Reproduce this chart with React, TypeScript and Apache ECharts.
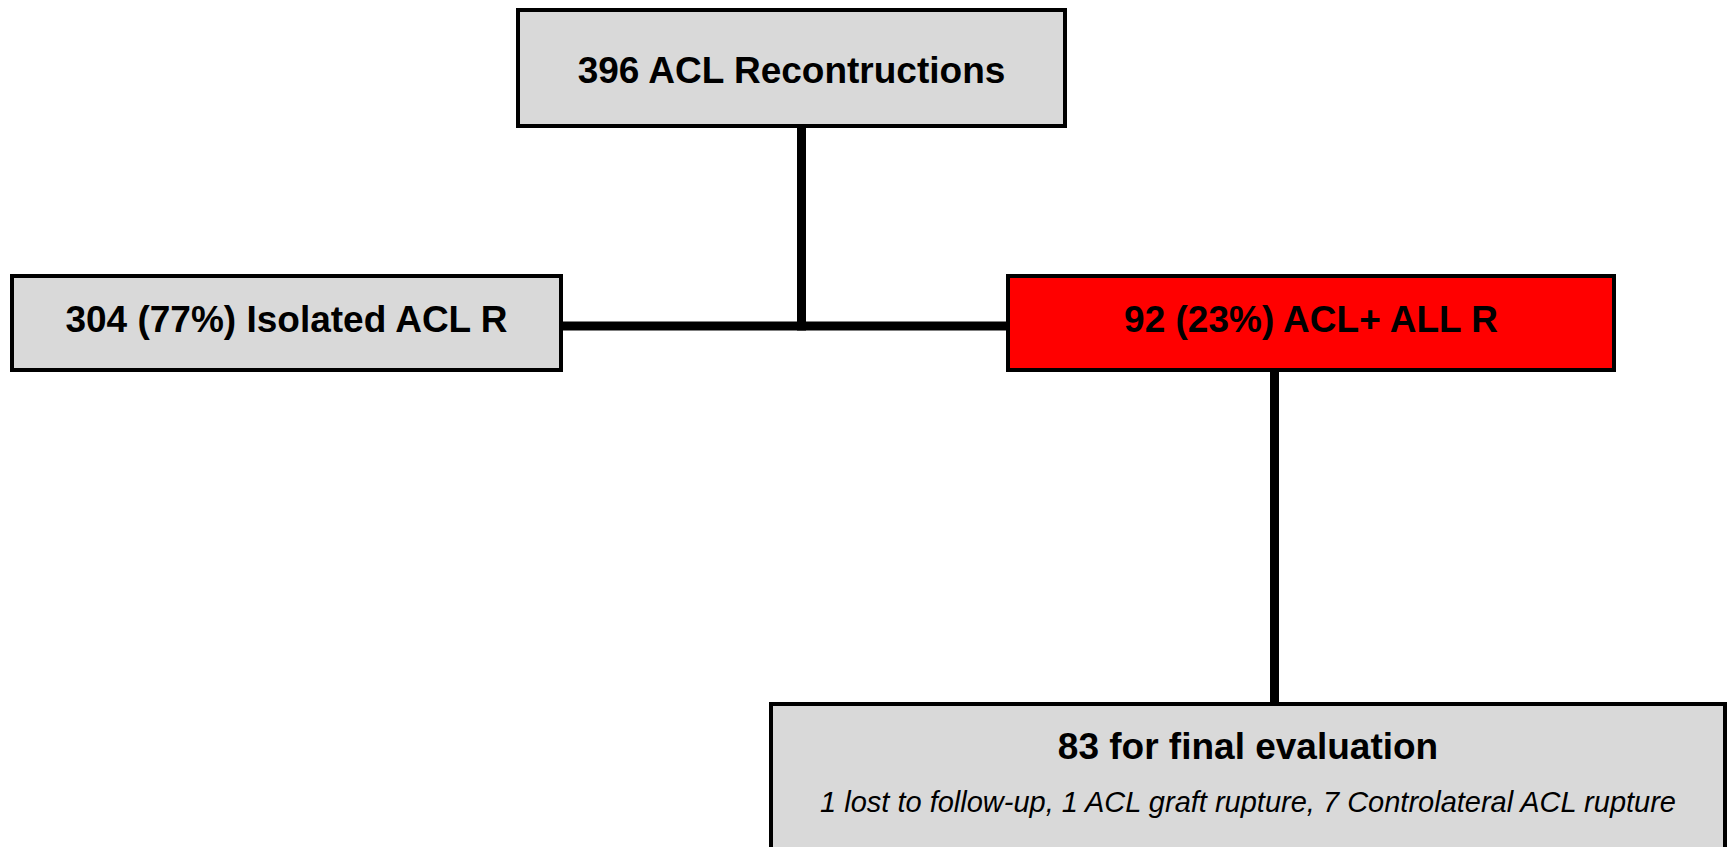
import React, { useEffect, useRef } from "react";
import * as echarts from "echarts";

// Flowchart content
const nodeTitles = [
  "396 ACL Recontructions",
  "304 (77%) Isolated ACL R",
  "92 (23%) ACL+ ALL R",
  "83 for final evaluation",
];
const nodeNotes = ["", "", "", "1 lost to follow-up, 1 ACL graft rupture, 7 Controlateral ACL rupture"];
const nodeFills = ["#d9d9d9", "#d9d9d9", "#ff0000", "#d9d9d9"];

// Layout (outer box rectangles: x, y, width, height) — kept separate from content
const boxLayout = [
  { x: 516, y: 8, w: 551, h: 120, ty: 70 },
  { x: 10, y: 274, w: 553, h: 98, ty: 319 },
  { x: 1006, y: 274, w: 610, h: 98, ty: 319 },
  { x: 769, y: 702, w: 958, h: 220, ty: 746, ny: 802 },
];

const BORDER = 4;
const LINE = 9;

export default function App() {
  const ref = useRef<HTMLDivElement>(null);

  useEffect(() => {
    if (!ref.current) return;
    const chart = echarts.init(ref.current, undefined, { renderer: "svg" });
    const elements: any[] = [];

    // connectors
    const top = boxLayout[0];
    const left = boxLayout[1];
    const red = boxLayout[2];
    const bottom = boxLayout[3];
    const midX = 801.5;
    const joinY = 326;
    const redX = 1274.5;
    elements.push(
      {
        type: "line",
        shape: { x1: midX, y1: top.y + top.h - 2, x2: midX, y2: joinY + LINE / 2 },
        style: { stroke: "#000", lineWidth: LINE },
        z: 1,
      },
      {
        type: "line",
        shape: { x1: left.x + left.w - 2, y1: joinY, x2: red.x + 2, y2: joinY },
        style: { stroke: "#000", lineWidth: LINE },
        z: 1,
      },
      {
        type: "line",
        shape: { x1: redX, y1: red.y + red.h - 2, x2: redX, y2: bottom.y + 2 },
        style: { stroke: "#000", lineWidth: LINE },
        z: 1,
      }
    );

    boxLayout.forEach((b, i) => {
      elements.push({
        type: "rect",
        shape: {
          x: b.x + BORDER / 2,
          y: b.y + BORDER / 2,
          width: b.w - BORDER,
          height: b.h - BORDER,
        },
        style: { fill: nodeFills[i], stroke: "#000", lineWidth: BORDER },
        z: 2,
      });
      elements.push({
        type: "text",
        x: b.x + b.w / 2,
        y: b.ty,
        style: {
          text: nodeTitles[i],
          fill: "#000",
          font: 'bold 37px "Liberation Sans", Arial, sans-serif',
          align: "center",
          verticalAlign: "middle",
        },
        z: 3,
      });
      if (nodeNotes[i]) {
        elements.push({
          type: "text",
          x: b.x + b.w / 2,
          y: (b as any).ny,
          style: {
            text: nodeNotes[i],
            fill: "#000",
            font: 'italic 29px "Liberation Sans", Arial, sans-serif',
            align: "center",
            verticalAlign: "middle",
          },
          z: 3,
        });
      }
    });

    chart.setOption({
      animation: false,
      backgroundColor: "#ffffff",
      graphic: { elements },
    });

    return () => chart.dispose();
  }, []);

  return (
    <div
      ref={ref}
      style={{ position: "fixed", left: 0, top: 0, width: 1729, height: 847 }}
    />
  );
}
